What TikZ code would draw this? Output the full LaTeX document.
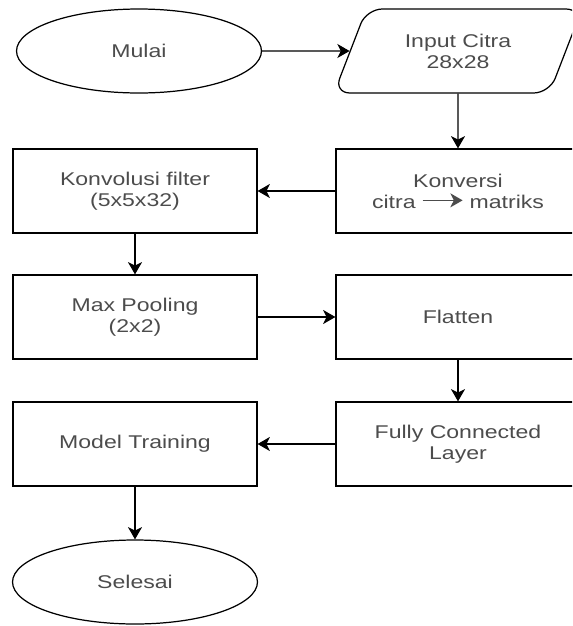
\documentclass[tikz,border=0pt]{standalone}
\usepackage{fontspec}
\setmainfont{Liberation Sans}[FakeStretch=1.25]
\usetikzlibrary{shapes.geometric, arrows.meta}
\tikzset{
	proc/.style = {draw, line width=0.7pt, minimum width=4.88cm, minimum height=1.68cm,
		align=center, font=\fontsize{10.5}{12}\selectfont, text=black!70},
	term/.style = {proc, ellipse, minimum width=4.9cm},
	io/.style = {proc, trapezium, trapezium left angle=65.7, trapezium right angle=114.3,
		trapezium stretches=true, minimum width=5cm, rounded corners=9pt},
	arr/.style = {-{Stealth[length=7pt, width=8pt, inset=2pt]}, line width=0.7pt}
}

\begin{document}
\begin{tikzpicture}[x=0.02cm, y=-0.02cm]
	\path[use as bounding box, clip] (0,0) rectangle (572,626);
	% ====== Blocks ========
	\node[term] (mulai) at (139,51) {Mulai};
	\node[io] (input) at (458,51) {Input Citra\\28x28};
	\node[proc] (konversi) at (458,191) {Konversi\\citra \tikz[baseline=-0.8ex]{\draw[arr] (0,0) -- (0.8cm,0);} matriks};
	\node[proc] (konvolusi) at (135,191) {Konvolusi filter\\(5x5x32)};
	\node[proc] (pooling) at (135,317) {Max Pooling\\(2x2)};
	\node[proc] (flatten) at (458,317) {Flatten};
	\node[proc] (fc) at (458,444) {Fully Connected\\Layer};
	\node[proc] (training) at (135,444) {Model Training};
	\node[term] (selesai) at (135,582) {Selesai};

	% ====== Flow ========
	\draw[arr] (mulai) -- (input);
	\draw[arr] (input) -- (konversi);
	\draw[arr] (konversi) -- (konvolusi);
	\draw[arr] (konvolusi) -- (pooling);
	\draw[arr] (pooling) -- (flatten);
	\draw[arr] (flatten) -- (fc);
	\draw[arr] (fc) -- (training);
	\draw[arr] (training) -- (selesai);
\end{tikzpicture}
\end{document}
